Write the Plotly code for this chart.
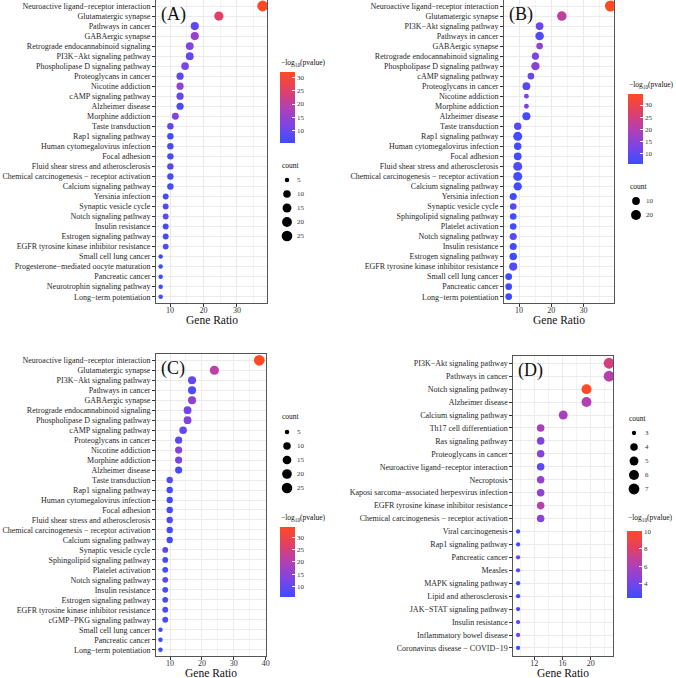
import math
import plotly.graph_objects as go

# ---------------- data ----------------
A_terms = ["Neuroactive ligand−receptor interaction", "Glutamatergic synapse", "Pathways in cancer",
           "GABAergic synapse", "Retrograde endocannabinoid signaling", "PI3K−Akt signaling pathway",
           "Phospholipase D signaling pathway", "Proteoglycans in cancer", "Nicotine addiction",
           "cAMP signaling pathway", "Alzheimer disease", "Morphine addiction", "Taste transduction",
           "Rap1 signaling pathway", "Human cytomegalovirus infection", "Focal adhesion",
           "Fluid shear stress and atherosclerosis", "Chemical carcinogenesis − receptor activation",
           "Calcium signaling pathway", "Yersinia infection", "Synaptic vesicle cycle",
           "Notch signaling pathway", "Insulin resistance", "Estrogen signaling pathway",
           "EGFR tyrosine kinase inhibitor resistance", "Small cell lung cancer",
           "Progesterone−mediated oocyte maturation", "Pancreatic cancer",
           "Neurotrophin signaling pathway", "Long−term potentiation"]
A_ratio = [37.7, 24.6, 17.4, 17.4, 15.9, 15.9, 14.5, 13.0, 13.0, 13.0, 13.0, 11.6,
           10.1, 10.1, 10.1, 10.1, 10.1, 10.1, 10.1, 8.7, 8.7, 8.7, 8.7, 8.7, 8.7,
           7.2, 7.2, 7.2, 7.2, 7.2]
A_count = [26, 17, 12, 12, 11, 11, 10, 9, 9, 9, 9, 8, 7, 7, 7, 7, 7, 7, 7,
           6, 6, 6, 6, 6, 6, 5, 5, 5, 5, 5]
A_logp = [31.9, 25.0, 9.0, 15.5, 13.0, 9.5, 12.0, 9.0, 14.5, 9.5, 7.0, 12.5, 9.0, 6.5, 6.5,
          6.8, 8.0, 6.5, 6.5, 6.5, 8.0, 9.5, 7.0, 7.0, 8.0, 5.5, 5.5, 5.5, 5.6, 5.8]

B_terms = ["Neuroactive ligand−receptor interaction", "Glutamatergic synapse", "PI3K−Akt signaling pathway",
           "Pathways in cancer", "GABAergic synapse", "Retrograde endocannabinoid signaling",
           "Phospholipase D signaling pathway", "cAMP signaling pathway", "Proteoglycans in cancer",
           "Nicotine addiction", "Morphine addiction", "Alzheimer disease", "Taste transduction",
           "Rap1 signaling pathway", "Human cytomegalovirus infection", "Focal adhesion",
           "Fluid shear stress and atherosclerosis", "Chemical carcinogenesis − receptor activation",
           "Calcium signaling pathway", "Yersinia infection", "Synaptic vesicle cycle",
           "Sphingolipid signaling pathway", "Platelet activation", "Notch signaling pathway",
           "Insulin resistance", "Estrogen signaling pathway", "EGFR tyrosine kinase inhibitor resistance",
           "Small cell lung cancer", "Pancreatic cancer", "Long−term potentiation"]
B_ratio = [38.4, 23.3, 16.4, 16.4, 16.4, 15.1, 15.1, 13.7, 12.3, 12.3, 12.3, 12.3,
           9.6, 9.6, 9.6, 9.6, 9.6, 9.6, 9.6, 8.2, 8.2, 8.2, 8.2, 8.2, 8.2, 8.2, 8.2,
           6.8, 6.8, 6.8]
B_count = [27, 18, 10, 13, 7, 8, 12, 7, 10, 5, 5, 11, 9, 15, 9, 10, 15, 15, 12,
           8, 7, 7, 7, 8, 8, 9, 11, 7, 7, 7]
B_logp = [34.5, 22.0, 11.0, 8.0, 16.0, 13.0, 15.0, 11.0, 9.0, 14.0, 13.0, 7.0, 9.0, 6.5, 6.5,
          6.5, 8.0, 6.5, 6.5, 6.5, 9.0, 6.5, 6.5, 9.0, 6.5, 6.5, 8.0, 5.9, 6.0, 6.0]

C_terms = ["Neuroactive ligand−receptor interaction", "Glutamatergic synapse", "PI3K−Akt signaling pathway",
           "Pathways in cancer", "GABAergic synapse", "Retrograde endocannabinoid signaling",
           "Phospholipase D signaling pathway", "cAMP signaling pathway", "Proteoglycans in cancer",
           "Nicotine addiction", "Morphine addiction", "Alzheimer disease", "Taste transduction",
           "Rap1 signaling pathway", "Human cytomegalovirus infection", "Focal adhesion",
           "Fluid shear stress and atherosclerosis", "Chemical carcinogenesis − receptor activation",
           "Calcium signaling pathway", "Synaptic vesicle cycle", "Sphingolipid signaling pathway",
           "Platelet activation", "Notch signaling pathway", "Insulin resistance",
           "Estrogen signaling pathway", "EGFR tyrosine kinase inhibitor resistance",
           "cGMP−PKG signaling pathway", "Small cell lung cancer", "Pancreatic cancer",
           "Long−term potentiation"]
C_ratio = [38.0, 23.9, 16.9, 16.9, 16.9, 15.5, 15.5, 14.1, 12.7, 12.7, 12.7, 12.7,
           9.9, 9.9, 9.9, 9.9, 9.9, 9.9, 9.9, 8.5, 8.5, 8.5, 8.5, 8.5, 8.5, 8.5, 8.5,
           7.0, 7.0, 7.0]
C_count = [27, 17, 12, 12, 12, 11, 11, 10, 9, 9, 9, 9, 7, 7, 7, 7, 7, 7, 7,
           6, 6, 6, 6, 6, 6, 6, 6, 5, 5, 5]
C_logp = [34.3, 21.0, 10.0, 8.0, 15.0, 12.0, 13.0, 10.0, 9.0, 14.0, 13.0, 7.0, 8.5, 6.5, 6.5,
          6.5, 7.5, 6.5, 6.5, 9.0, 7.0, 6.5, 9.0, 6.8, 6.8, 8.0, 6.8, 5.6, 5.7, 5.8]

D_terms = ["PI3K−Akt signaling pathway", "Pathways in cancer", "Notch signaling pathway",
           "Alzheimer disease", "Calcium signaling pathway", "Th17 cell differentiation",
           "Ras signaling pathway", "Proteoglycans in cancer", "Neuroactive ligand−receptor interaction",
           "Necroptosis", "Kaposi sarcoma−associated herpesvirus infection",
           "EGFR tyrosine kinase inhibitor resistance", "Chemical carcinogenesis − receptor activation",
           "Viral carcinogenesis", "Rap1 signaling pathway", "Pancreatic cancer", "Measles",
           "MAPK signaling pathway", "Lipid and atherosclerosis", "JAK−STAT signaling pathway",
           "Insulin resistance", "Inflammatory bowel disease", "Coronavirus disease − COVID−19"]
D_ratio = [22.6, 22.6, 19.4, 19.4, 16.1, 12.9, 12.9, 12.9, 12.9, 12.9, 12.9, 12.9, 12.9,
           9.7, 9.7, 9.7, 9.7, 9.7, 9.7, 9.7, 9.7, 9.7, 9.7]
D_count = [7, 7, 6, 6, 5, 4, 4, 4, 4, 4, 4, 4, 4, 3, 3, 3, 3, 3, 3, 3, 3, 3, 3]
D_logp = [7.5, 6.3, 10.08, 6.2, 5.8, 5.8, 4.5, 4.8, 3.4, 5.2, 5.0, 6.4, 4.8,
          2.5, 2.6, 3.8, 3.3, 2.4, 2.6, 2.8, 3.3, 4.2, 2.33]

A_size_breaks = [5, 10, 15, 20, 25]
B_size_breaks = [10, 20]
C_size_breaks = [5, 10, 15, 20, 25]
D_size_breaks = [3, 4, 5, 6, 7]
A_color_ticks = [10, 15, 20, 25, 30]
B_color_ticks = [10, 15, 20, 25, 30]
C_color_ticks = [10, 15, 20, 25, 30]
D_color_ticks = [4, 6, 8, 10]
x_title = "Gene Ratio"
cbar_title = "−log<sub>10</sub>(pvalue)"
size_title = "count"

# ---------------- styling ----------------
W, H = 676, 678
SERIF = "Liberation Serif, Times New Roman, serif"
COLORSCALE = [[0.0, "#3d4cff"], [0.25, "#7c44e4"], [0.5, "#b43fb2"],
              [0.75, "#e14064"], [1.0, "#ff4a24"]]


def px_x(x):
    return x / W


def px_y(y):
    return 1 - y / H


def dot_size(c, cmin, cmax, dmin, dmax):
    r = (c - cmin) / (cmax - cmin) if cmax > cmin else 0
    r = max(0.0, min(1.0, r))
    return dmin + (dmax - dmin) * math.sqrt(r)


panels = [
    dict(key="A", terms=A_terms, ratio=A_ratio, count=A_count, logp=A_logp,
         box=(156, 267, 0, 302.7), xr=(5.8, 39.0), dtick=10, minor=5,
         size=(4.5, 10.8), breaks=A_size_breaks, cticks=A_color_ticks,
         cbar=(280, 72, 71), cbar_title_y=63, size_title=(280, 165), size_first=180,
         size_dot_x=287, size_lab_x=297),
    dict(key="B", terms=B_terms, ratio=B_ratio, count=B_count, logp=B_logp,
         box=(504, 614, 0, 302.7), xr=(5.34, 39.5), dtick=10, minor=5,
         size=(4.8, 11.0), breaks=B_size_breaks, cticks=B_color_ticks,
         cbar=(628, 94, 70), cbar_title_y=85, size_title=(628, 187), size_first=201,
         size_dot_x=636, size_lab_x=646),
    dict(key="C", terms=C_terms, ratio=C_ratio, count=C_count, logp=C_logp,
         box=(156, 266, 354.3, 655.7), xr=(5.6, 40.1), dtick=10, minor=5,
         size=(4.5, 10.8), breaks=C_size_breaks, cticks=C_color_ticks,
         cbar=(280, 527, 70), cbar_title_y=518, size_title=(280, 417), size_first=432,
         size_dot_x=287, size_lab_x=297),
    dict(key="D", terms=D_terms, ratio=D_ratio, count=D_count, logp=D_logp,
         box=(513.3, 613.3, 355.5, 655.7), xr=(9.02, 23.2), dtick=4, minor=2,
         size=(4.3, 10.8), breaks=D_size_breaks, cticks=D_color_ticks,
         cbar=(627, 531, 67), cbar_title_y=518, size_title=(627, 418), size_first=433,
         size_dot_x=634, size_lab_x=645),
]

fig = go.Figure()
annotations = []
layout_axes = {}

for i, p in enumerate(panels, start=1):
    xa = "x" if i == 1 else f"x{i}"
    ya = "y" if i == 1 else f"y{i}"
    cmin_c, cmax_c = min(p["count"]), max(p["count"])
    dmin, dmax = p["size"]
    sizes = [dot_size(c, cmin_c, cmax_c, dmin, dmax) for c in p["count"]]
    cx, cy, clen = p["cbar"]
    fig.add_trace(go.Scatter(
        x=p["ratio"], y=p["terms"], mode="markers", xaxis=xa, yaxis=ya,
        showlegend=False, hoverinfo="x+y",
        marker=dict(size=sizes, color=p["logp"], colorscale=COLORSCALE,
                    cmin=min(p["logp"]), cmax=max(p["logp"]), opacity=1,
                    line=dict(width=0),
                    showscale=True,
                    colorbar=dict(x=px_x(cx), xanchor="left", y=px_y(cy), yanchor="top",
                                  len=clen, lenmode="pixels", thickness=15,
                                  thicknessmode="pixels", tickvals=p["cticks"],
                                  ticks="inside", ticklen=3, tickcolor="white",
                                  tickwidth=1, outlinewidth=0, xpad=0, ypad=0,
                                  tickfont=dict(family=SERIF, size=7, color="#333333"),
                                  title=dict(text="")))))
    x0, x1, y0, y1 = p["box"]
    n = len(p["terms"])
    axis_common = dict(showline=True, mirror=True, linecolor="#555555", linewidth=1,
                       gridcolor="#ebebeb", gridwidth=1, zeroline=False)
    layout_axes["xaxis" if i == 1 else f"xaxis{i}"] = dict(
        domain=[px_x(x0), px_x(x1)], anchor=ya, range=list(p["xr"]),
        tick0=0, dtick=p["dtick"], ticks="outside", ticklen=3, tickcolor="#333333",
        tickwidth=0.8, tickfont=dict(family=SERIF, size=8, color="#333333"),
        ticklabelstandoff=-3,
        minor=dict(dtick=p["minor"], tick0=0, showgrid=True, gridcolor="#f3f3f3",
                   gridwidth=0.6),
        **axis_common)
    layout_axes["yaxis" if i == 1 else f"yaxis{i}"] = dict(
        domain=[px_y(y1), px_y(y0)], anchor=xa, type="category",
        categoryorder="array", categoryarray=list(reversed(p["terms"])),
        tickmode="array", tickvals=p["terms"], ticktext=p["terms"],
        range=[-0.6, n - 0.4], ticks="outside", ticklen=3, tickcolor="#333333",
        tickwidth=0.8, tickfont=dict(family=SERIF, size=8, color="#1f1f1f"),
        **axis_common)
    # panel label
    annotations.append(dict(text=f"({p['key']})", x=px_x(x0 + 3), y=px_y(y0 + 2),
                            xref="paper", yref="paper", xanchor="left", yanchor="top",
                            showarrow=False, font=dict(family=SERIF, size=18, color="#111111")))
    # x-axis title
    annotations.append(dict(text=x_title, x=px_x((x0 + x1) / 2), y=px_y(y1 + 17.5),
                            xref="paper", yref="paper", xanchor="center", yanchor="middle",
                            showarrow=False, borderpad=0,
                            font=dict(family=SERIF, size=11.5, color="#111111")))
    # colorbar title
    annotations.append(dict(text=cbar_title, x=px_x(cx - 1), y=px_y(p["cbar_title_y"]),
                            xref="paper", yref="paper", xanchor="left", yanchor="middle",
                            showarrow=False, font=dict(family=SERIF, size=7.5, color="#111111")))
    # size legend title
    stx, sty = p["size_title"]
    annotations.append(dict(text=size_title, x=px_x(stx), y=px_y(sty),
                            xref="paper", yref="paper", xanchor="left", yanchor="middle",
                            showarrow=False, font=dict(family=SERIF, size=7.5, color="#111111")))
    # size legend keys (on a pixel-space overlay axis)
    ys = [p["size_first"] + 14 * k for k in range(len(p["breaks"]))]
    fig.add_trace(go.Scatter(
        x=[p["size_dot_x"]] * len(ys), y=ys, mode="markers", xaxis="x5", yaxis="y5",
        showlegend=False, hoverinfo="skip",
        marker=dict(size=[dot_size(b, cmin_c, cmax_c, dmin, dmax) for b in p["breaks"]],
                    color="#000000", opacity=1, line=dict(width=0))))
    fig.add_trace(go.Scatter(
        x=[p["size_lab_x"]] * len(ys), y=ys, mode="text", xaxis="x5", yaxis="y5",
        text=[str(b) for b in p["breaks"]], textposition="middle right",
        showlegend=False, hoverinfo="skip",
        textfont=dict(family=SERIF, size=7, color="#333333")))

layout_axes["xaxis5"] = dict(domain=[0, 1], range=[0, W], visible=False, anchor="y5",
                             fixedrange=True)
layout_axes["yaxis5"] = dict(domain=[0, 1], range=[H, 0], visible=False, anchor="x5",
                             fixedrange=True)

fig.update_layout(width=W, height=H,
                  margin=dict(l=0, r=0, t=0, b=0, pad=0, autoexpand=False),
                  paper_bgcolor="white", plot_bgcolor="rgba(0,0,0,0)",
                  font=dict(family=SERIF), annotations=annotations, **layout_axes)

fig.write_html("out.html", config={"displayModeBar": False},
               post_script="document.body.style.margin='0';document.body.style.overflow='hidden';")
